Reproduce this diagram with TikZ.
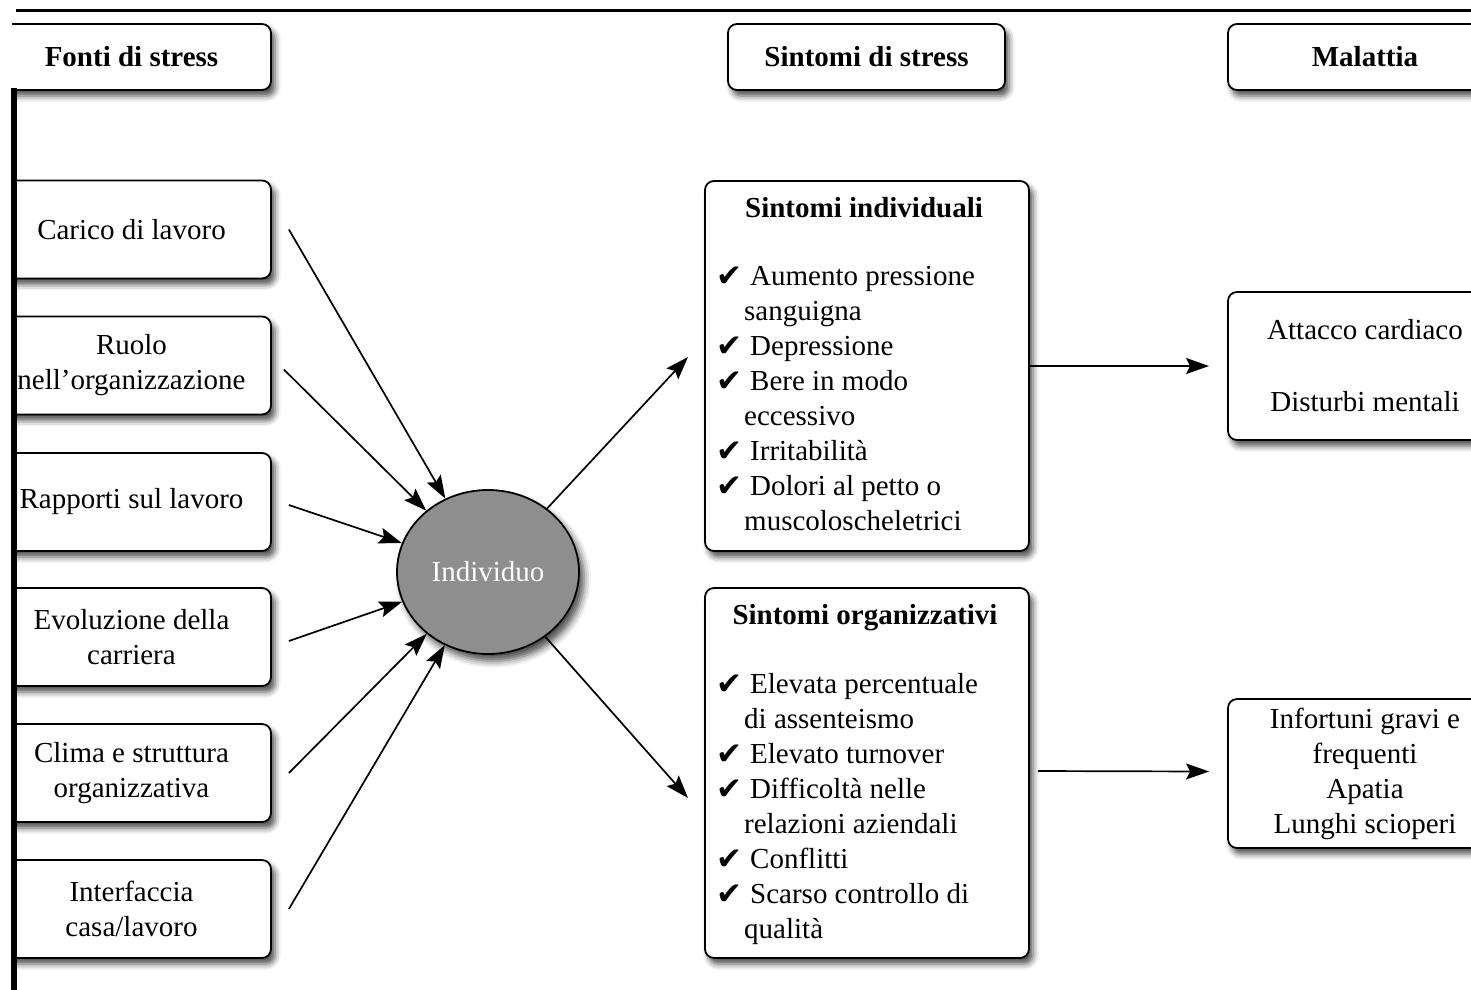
\documentclass[tikz,border=0pt]{standalone}
\usepackage{fontspec}
\setmainfont{Liberation Serif}
\newfontfamily\dejavu{DejaVu Sans}
\usetikzlibrary{shapes.geometric,arrows.meta,shadows.blur}
\definecolor{indgray}{RGB}{142,142,142}
\newcommand{\ck}{\makebox[34pt][l]{\dejavu\fontsize{31pt}{35pt}\selectfont\raisebox{-1pt}{✔}}}
\newcommand{\ind}{\hspace*{28pt}}
\begin{document}
\begin{tikzpicture}[x=1pt,y=-1pt,
  font=\fontsize{29pt}{35pt}\selectfont,
  box/.style={draw=black, line width=1.8pt, rounded corners=9pt, fill=white,
    blur shadow={shadow xshift=4pt, shadow yshift=-6pt, shadow blur radius=6pt, shadow opacity=70},
    align=center, inner sep=0pt},
  arr/.style={line width=1.7pt, -{Stealth[length=23pt,width=16pt,inset=4pt]}},
  lbox/.style={box, minimum width=279pt, minimum height=98pt},
  hbox/.style={box, minimum height=66pt, font=\fontsize{29pt}{35pt}\selectfont\bfseries},
  sbox/.style={box, minimum width=324pt, minimum height=370pt},
  rbox/.style={box, minimum width=274pt},
  ttl/.style={anchor=base, inner sep=0pt, font=\fontsize{29pt}{35pt}\selectfont\bfseries},
  lst/.style={anchor=base west, inner sep=0pt}
]
\useasboundingbox (0,0) rectangle (1471,989);
\clip (0,0) rectangle (1471,989);

% frame line at top
\coordinate (tl) at (16,10);
\coordinate (tr) at (1475,10);
\draw[line width=3pt] (tl) -- (tr);

% left column (cut at the left rule)
\begin{scope}
\clip (12,0) rectangle (1471,989);
\node[hbox, minimum width=279pt] (fonti) at (131.5,57) {Fonti di stress};
\node[lbox] (carico) at (131.5,229.5) {Carico di lavoro};
\node[lbox] (ruolo) at (131.5,365.5) {Ruolo\\nell'organizzazione};
\node[lbox] (rapporti) at (131.5,502) {Rapporti sul lavoro};
\node[lbox] (evol) at (131.5,637) {Evoluzione della\\carriera};
\node[lbox] (clima) at (131.5,773) {Clima e struttura\\organizzativa};
\node[lbox] (interf) at (131.5,909) {Interfaccia\\casa/lavoro};
\end{scope}

\coordinate (vt) at (13.5,88);
\coordinate (vb) at (13.5,995);
\draw[line width=6pt] (vt) -- (vb);

% middle column
\node[hbox, minimum width=277pt] (sint) at (866.5,57) {Sintomi di stress};
\node[sbox] (indiv) at (867,366) {};
\node[sbox] (org) at (867,773) {};

\node[ttl] (indivT) at (864,217) {Sintomi individuali};
\node[lst] (indivL) at (716,285) {\vtop{%
  \hbox{\ck Aumento pressione}
  \hbox{\ind sanguigna}
  \hbox{\ck Depressione}
  \hbox{\ck Bere in modo}
  \hbox{\ind eccessivo}
  \hbox{\ck Irritabilità}
  \hbox{\ck Dolori al petto o}
  \hbox{\ind muscoloscheletrici}}};

\node[ttl] (orgT) at (865,624) {Sintomi organizzativi};
\node[lst] (orgL) at (716,693) {\vtop{%
  \hbox{\ck Elevata percentuale}
  \hbox{\ind di assenteismo}
  \hbox{\ck Elevato turnover}
  \hbox{\ck Difficoltà nelle}
  \hbox{\ind relazioni aziendali}
  \hbox{\ck Conflitti}
  \hbox{\ck Scarso controllo di}
  \hbox{\ind qualità}}};

% right column
\node[hbox, minimum width=274pt] (mal) at (1365,57) {Malattia};
\node[rbox, minimum height=148pt] (attacco) at (1365,366) {Attacco cardiaco\\[37pt]Disturbi mentali};
\node[rbox, minimum height=149pt] (infort) at (1365,773.5) {Infortuni gravi e\\frequenti\\Apatia\\Lunghi scioperi};

% individual
\node[ellipse, draw=black, line width=1.8pt, fill=indgray, minimum width=182pt, minimum height=164pt,
  inner sep=0pt, text=white,
  blur shadow={shadow xshift=5pt, shadow yshift=-7pt, shadow blur radius=7pt, shadow opacity=70}] (ind) at (488,572) {Individuo};

% arrows in
\draw[arr] ([xshift=17pt]carico.east) -- (ind);
\draw[arr] ([xshift=12pt,yshift=-4pt]ruolo.east) -- (ind);
\draw[arr] ([xshift=17pt,yshift=-3pt]rapporti.east) -- (ind);
\draw[arr] ([xshift=17pt,yshift=-4pt]evol.east) -- (ind);
\draw[arr] ([xshift=17pt]clima.east) -- (ind);
\draw[arr] ([xshift=17pt]interf.east) -- (ind);

% arrows out
\coordinate (o1) at (688,357);
\coordinate (o2) at (688,798);
\draw[arr] (ind) -- (o1);
\draw[arr] (ind) -- (o2);
\draw[arr] (indiv.east) -- ([xshift=-18pt]attacco.west);
\draw[arr] ([xshift=8pt,yshift=2pt]org.east) -- ([xshift=-18pt,yshift=2pt]infort.west);
\end{tikzpicture}
\end{document}
